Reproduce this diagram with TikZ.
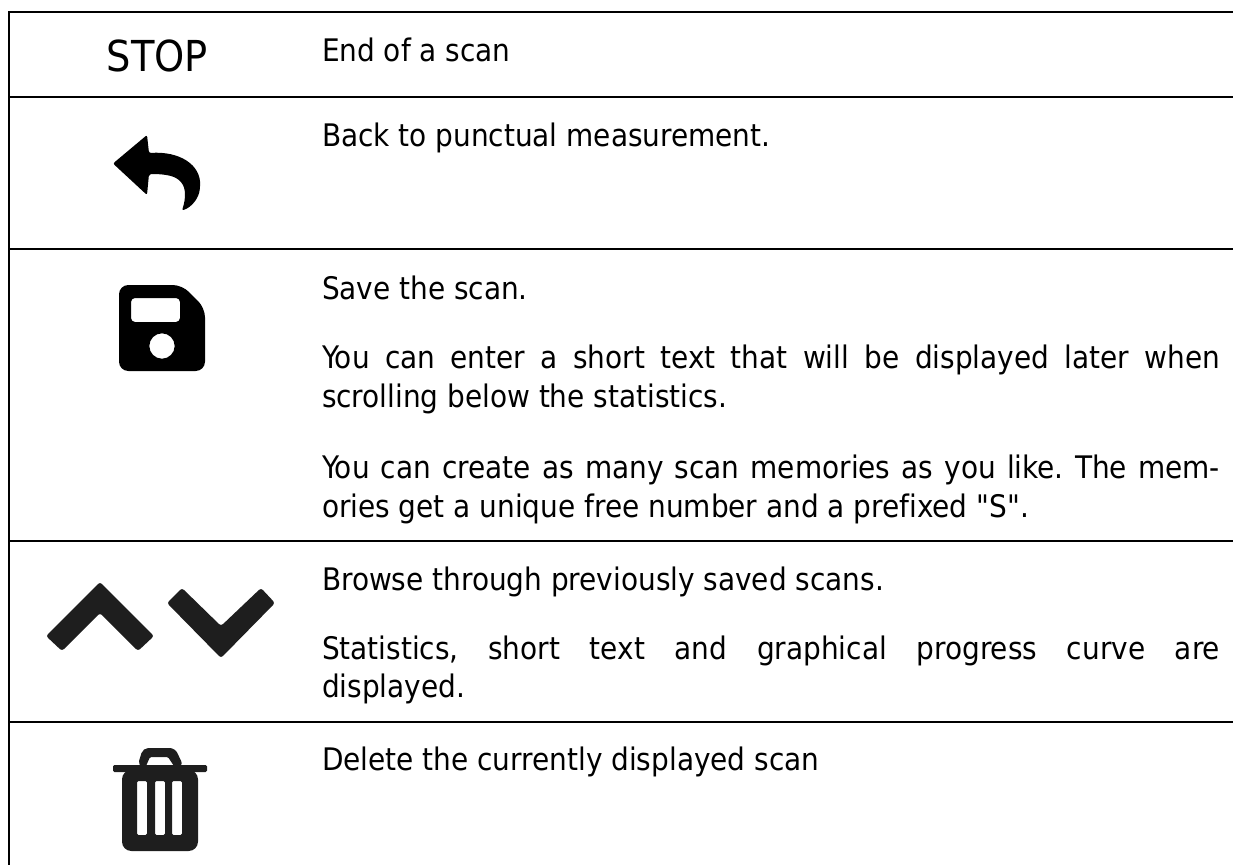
\documentclass[tikz,border=0pt]{standalone}
\usepackage{fontspec}
\newfontfamily\tahomalike{DejaVu Sans Condensed}[Ligatures=NoCommon]
\newcommand{\bodyfont}{\tahomalike\frenchspacing\fontsize{23.3pt}{28pt}\selectfont}
\newcommand{\jline}[1]{\makebox[673.5pt][s]{#1}}
\definecolor{iconblack}{HTML}{1E1E1E}
\tikzset{
  body/.style={anchor=base west,inner sep=0pt,outer sep=0pt,font=\bodyfont,text=black},
  rule/.style={line width=1.5pt,draw=black,line cap=butt},
  icon/.style={fill=black,draw=none},
  darkicon/.style={fill=iconblack,draw=none}
}
\begin{document}
\begin{tikzpicture}[x=0.75pt,y=-0.75pt]
\useasboundingbox (0,0) rectangle (1233,865);
% frame lines
\coordinate (tl) at (9,11);
\coordinate (bl) at (9,865);
\coordinate (r1l) at (9,12);   \coordinate (r1r) at (1233,12);
\coordinate (r2l) at (9,97);   \coordinate (r2r) at (1233,97);
\coordinate (r3l) at (9,249);  \coordinate (r3r) at (1233,249);
\coordinate (r4l) at (9,541);  \coordinate (r4r) at (1233,541);
\coordinate (r5l) at (9,722);  \coordinate (r5r) at (1233,722);
\draw[rule] (tl) -- (bl);
\draw[rule] (r1l) -- (r1r);
\draw[rule] (r2l) -- (r2r);
\draw[rule] (r3l) -- (r3r);
\draw[rule] (r4l) -- (r4r);
\draw[rule] (r5l) -- (r5r);
% STOP
\node[anchor=base,inner sep=0pt,font=\tahomalike\fontsize{32pt}{36pt}\selectfont] (stop) at (157.5,71) {STOP};
% back arrow
\fill[icon,rounded corners=1.5pt] (113,163.5) -- (147,135) -- (149,153) .. controls (180,151) and (201,165) .. (200,187)
  .. controls (199,198) and (192,207) .. (182,210.5) .. controls (186,198) and (186,188) .. (180,181)
  .. controls (173,175) and (162,174) .. (149,174) -- (147,195) -- cycle;
% save icon
\fill[icon,even odd rule]
  [rounded corners=7pt] (119,285) -- (182,285) -- (205,308) -- (205,371) -- (119,371) -- cycle
  [rounded corners=3pt] (131,298) rectangle (180,322)
  [sharp corners] (162,346) circle (12.7);
% chevrons
\fill[darkicon,rounded corners=2pt] (100,582) -- (154,636) -- (138,651) -- (100,613) -- (62,651) -- (46,636) -- cycle;
\fill[darkicon,rounded corners=2pt] (221,658) -- (167,603) -- (182,588) -- (221,626) -- (261,588) -- (275,603) -- cycle;
% trash
\fill[darkicon,rounded corners=1pt] (113,765) rectangle (207,772);
\fill[darkicon,even odd rule,rounded corners=4pt]
  (137.5,766) -- (143,748) -- (175,748) -- (183.5,766) -- cycle
  [rounded corners=1pt] (146,766) -- (150,757) -- (168,757) -- (174,766) -- cycle;
\fill[darkicon,even odd rule]
  [rounded corners=7pt] (122,770) -- (198,770) -- (198,851) -- (122,851) -- cycle
  [rounded corners=1pt] (137,781) rectangle (147,835)
  (155,781) rectangle (165,835)
  (172,781) rectangle (182,835);
% texts
\node[body] (t1) at (322,61) {End of a scan};
\node[body] (t2) at (322,146) {Back to punctual measurement.};
\node[body] (t3) at (322,299) {Save the scan.};
\node[body] (t4) at (322,368) {\jline{You can enter a short text that will be displayed later when}};
\node[body] (t5) at (322,407) {scrolling below the statistics.};
\node[body] (t6) at (322,478) {\jline{You can create as many scan memories as you like. The mem-}};
\node[body] (t7) at (322,517) {ories get a unique free number and a prefixed "S".};
\node[body] (t8) at (322,590) {Browse through previously saved scans.};
\node[body] (t9) at (322,659) {\jline{Statistics, short text and graphical progress curve are}};
\node[body] (t10) at (322,697) {displayed.};
\node[body] (t11) at (322,770) {Delete the currently displayed scan};
\end{tikzpicture}
\end{document}
